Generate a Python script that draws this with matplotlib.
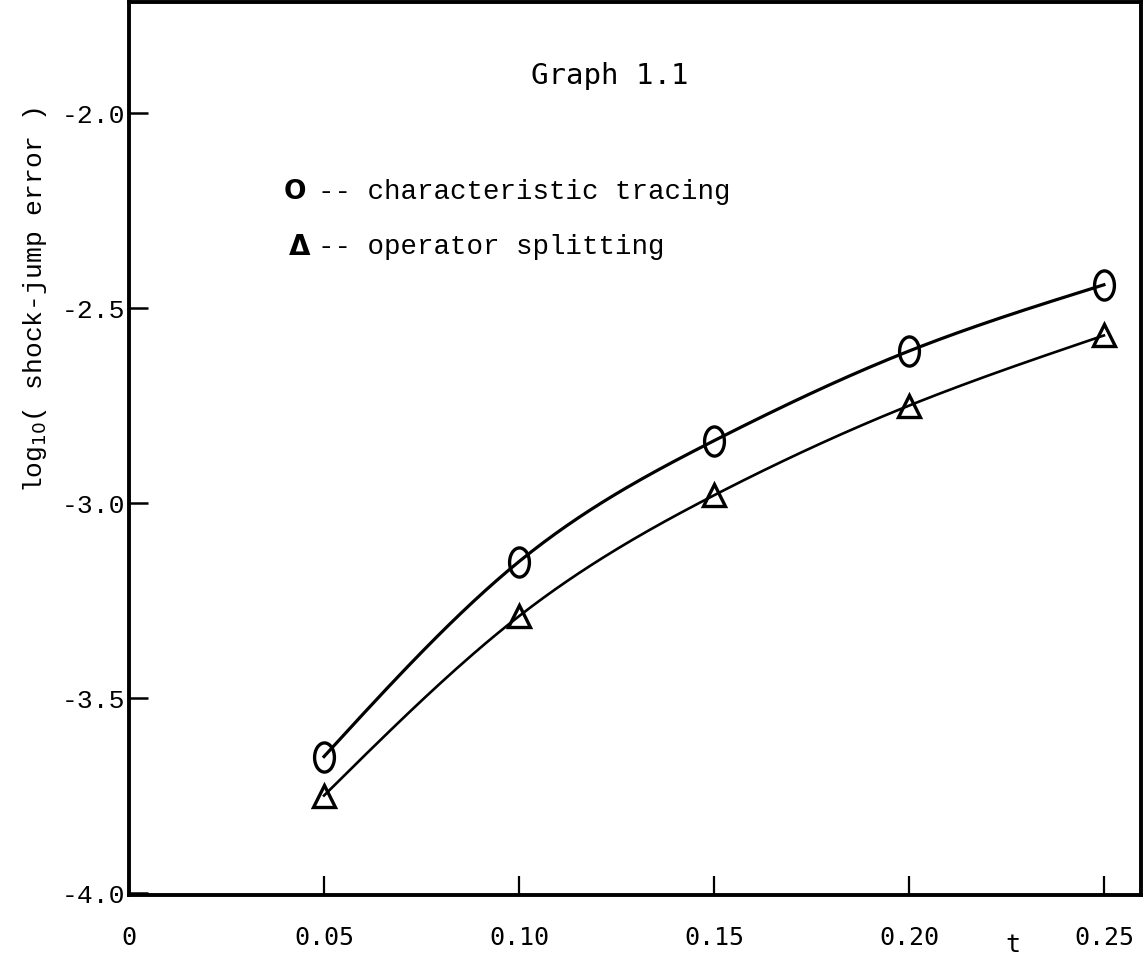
import numpy as np
import matplotlib
matplotlib.use("Agg")
import matplotlib.pyplot as plt
from matplotlib.path import Path
from matplotlib.transforms import Affine2D

# data
t_values = [0.05, 0.10, 0.15, 0.20, 0.25]
char_tracing = [-3.65, -3.15, -2.84, -2.61, -2.44]
op_splitting = [-3.75, -3.29, -2.98, -2.75, -2.57]

x_ticks = [0, 0.05, 0.10, 0.15, 0.20, 0.25]
x_tick_labels = ["0", "0.05", "0.10", "0.15", "0.20", "0.25"]
y_ticks = [-2.0, -2.5, -3.0, -3.5, -4.0]
y_tick_labels = ["-2.0", "-2.5", "-3.0", "-3.5", "-4.0"]


def smooth_curve(x, y, n=200):
    """Natural cubic spline through the points, for the hand drawn look."""
    x = np.asarray(x, float)
    y = np.asarray(y, float)
    k = len(x)
    h = np.diff(x)
    A = np.zeros((k, k))
    b = np.zeros(k)
    A[0, 0] = A[-1, -1] = 1
    for i in range(1, k - 1):
        A[i, i - 1] = h[i - 1]
        A[i, i] = 2 * (h[i - 1] + h[i])
        A[i, i + 1] = h[i]
        b[i] = 6 * ((y[i + 1] - y[i]) / h[i] - (y[i] - y[i - 1]) / h[i - 1])
    m = np.linalg.solve(A, b)
    xs = np.linspace(x[0], x[-1], n)
    idx = np.clip(np.searchsorted(x, xs) - 1, 0, k - 2)
    x0, x1 = x[idx], x[idx + 1]
    hh = x1 - x0
    a = (x1 - xs) / hh
    c = (xs - x0) / hh
    ys = (a * y[idx] + c * y[idx + 1]
          + ((a ** 3 - a) * m[idx] + (c ** 3 - c) * m[idx + 1]) * hh ** 2 / 6)
    return xs, ys


plt.rcParams['axes.unicode_minus'] = False
mono = "Liberation Mono"
sans_mono = "DejaVu Sans Mono"

fig = plt.figure(figsize=(11.46, 9.58), dpi=100)
ax = fig.add_axes([0.1126, 0.0658, 0.883, 0.932])

# oval "0" marker like the typewriter glyph
oval = Path.unit_circle().transformed(Affine2D().scale(0.68, 1.0))

xs, ys = smooth_curve(t_values, char_tracing)
ax.plot(xs, ys, color="black", lw=2.3)
ax.plot(t_values, char_tracing, linestyle="none", marker=oval, ms=21,
        mfc="none", mec="black", mew=2.4)

xs, ys = smooth_curve(t_values, op_splitting)
ax.plot(xs, ys, color="black", lw=1.9)
ax.plot(t_values, op_splitting, linestyle="none", marker="^", ms=16,
        mfc="none", mec="black", mew=2.4)

ax.set_xlim(0, 0.2595)
ax.set_ylim(-4.005, -1.715)

ax.set_xticks(x_ticks)
ax.set_xticklabels(x_tick_labels, fontfamily=sans_mono, fontsize=18)
ax.set_yticks(y_ticks)
ax.set_yticklabels(y_tick_labels, fontfamily=mono, fontsize=19)
ax.tick_params(axis="x", direction="in", length=14, width=1.6, pad=22)
ax.tick_params(axis="y", direction="in", length=14, width=1.8, pad=3)

for s in ax.spines.values():
    s.set_linewidth(2.8)

ax.text(-0.093, 0.666, r"log$_{10}$( shock-jump error )", transform=ax.transAxes,
        rotation=90, ha="center", va="center", fontfamily=mono, fontsize=19)
ax.text(0.2267, -0.056, "t", transform=ax.get_xaxis_transform(),
        ha="center", va="center", fontfamily=sans_mono, fontsize=18)

ax.text(0.475, 0.917, "Graph 1.1", transform=ax.transAxes, ha="center",
        va="center", fontfamily=sans_mono, fontsize=21)

# legend written out like the original
ax.text(0.164, 0.787, "O", transform=ax.transAxes, ha="center", va="center",
        fontfamily="DejaVu Sans", fontsize=19, fontweight="bold")
ax.text(0.187, 0.787, "-- characteristic tracing", transform=ax.transAxes,
        ha="left", va="center", fontfamily=mono, fontsize=19.8)
ax.text(0.169, 0.726, "\u0394", transform=ax.transAxes, ha="center",
        va="center", fontfamily="DejaVu Sans", fontsize=20, fontweight="bold")
ax.text(0.187, 0.726, "-- operator splitting", transform=ax.transAxes,
        ha="left", va="center", fontfamily=mono, fontsize=19.8)

fig.savefig("out.png", dpi=100)
